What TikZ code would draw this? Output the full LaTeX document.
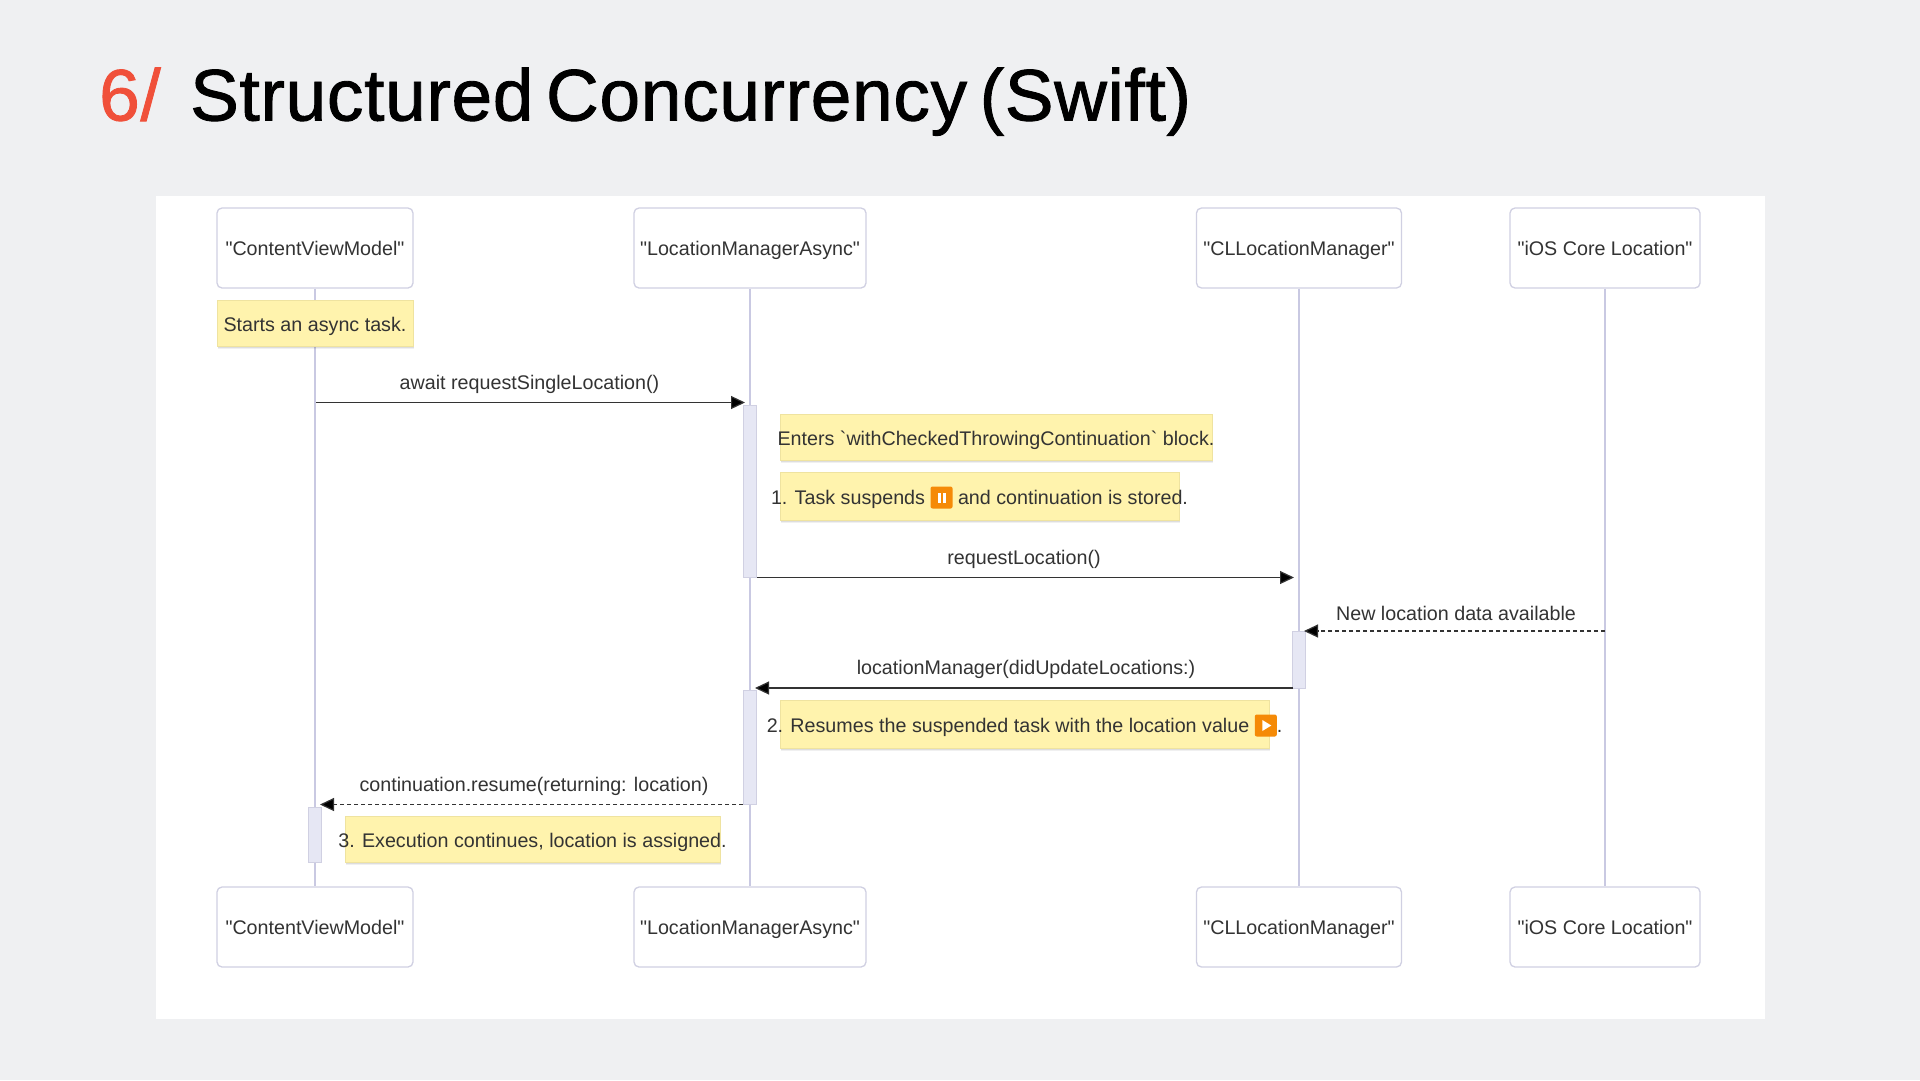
\documentclass[tikz,border=0pt]{standalone}
\usepackage{fontspec}
\setmainfont{Liberation Sans}[Ligatures=TeXOff]
\newfontfamily\titlefont{Liberation Sans}[FakeBold=1.2,LetterSpace=1.0,WordSpace=0.6]
\definecolor{slidebg}{HTML}{EFF0F2}
\definecolor{titlered}{HTML}{F0503A}
\definecolor{actorline}{HTML}{D0D0E2}
\definecolor{lifecol}{HTML}{C9C9E2}
\definecolor{actfill}{HTML}{E6E7F4}
\definecolor{notefill}{HTML}{FFF3AD}
\definecolor{noteline}{HTML}{EFE3A0}
\definecolor{inkcol}{HTML}{333333}
\definecolor{iconcol}{HTML}{F58A07}
\usetikzlibrary{shadows,arrows.meta}
\newcommand{\pauseicon}{\tikz[baseline=4pt,x=1pt,y=1pt]{\fill[iconcol,rounded corners=2pt] (0,0) rectangle (22,22);\fill[white] (7,6) rectangle (10,16);\fill[white] (12,6) rectangle (15,16);}}
\newcommand{\playicon}{\tikz[baseline=4pt,x=1pt,y=1pt]{\fill[iconcol,rounded corners=2pt] (0,0) rectangle (22,22);\fill[white] (7.5,5.5) -- (16.5,11) -- (7.5,16.5) -- cycle;}}
\tikzset{
  actorbox/.style={draw=actorline,line width=1.3pt,fill=white,rounded corners=5pt,inner sep=0pt,text=inkcol,text height=19pt,text depth=4pt,font=\fontsize{19.7}{24}\selectfont},
  lifeline/.style={draw=lifecol,line width=2pt},
  actbox/.style={draw=actorline,fill=actfill,line width=1pt,inner sep=0pt,minimum width=13pt},
  notebox/.style={draw=noteline,fill=notefill,line width=.8pt,inner sep=0pt,text=inkcol,text height=20pt,text depth=3pt,font=\fontsize{19.7}{24}\selectfont,
    general shadow={shadow xshift=1pt,shadow yshift=-3pt,opacity=.06,fill=black},
    general shadow={shadow xshift=.7pt,shadow yshift=-2pt,opacity=.08,fill=black},
    general shadow={shadow xshift=.4pt,shadow yshift=-1pt,opacity=.1,fill=black}},
  msg/.style={draw=inkcol,line width=1.2pt,-{Triangle[length=14pt,width=13pt]}},
  dashmsg/.style={msg,dash pattern=on 4pt off 3pt},
  msglabel/.style={text=inkcol,inner sep=0pt,text height=18pt,text depth=4pt,font=\fontsize{19.7}{24}\selectfont},
}
\begin{document}
\begin{tikzpicture}[x=1pt,y=-1pt]
\fill[slidebg] (0,0) rectangle (1920,1080);
\fill[white] (155.5,196) rectangle (1764.5,1019);
\useasboundingbox (0,0) rectangle (1920,1080);

% title
\node[anchor=base west,inner sep=0pt,text=titlered,font=\titlefont\fontsize{73}{80}\selectfont] (num) at (99,120.5) {6/};
\node[anchor=base west,inner sep=0pt,text=black,font=\titlefont\fontsize{73}{80}\selectfont] (title) at (190,120.5) {Structured Concurrency (Swift)};

% actors, top and bottom
\node[actorbox,minimum width=196pt,minimum height=80pt] (cvmTop) at (315,248) {"ContentViewModel"};
\node[actorbox,minimum width=232pt,minimum height=80pt] (lmaTop) at (750,248) {"LocationManagerAsync"};
\node[actorbox,minimum width=205pt,minimum height=80pt] (cllTop) at (1299,248) {"CLLocationManager"};
\node[actorbox,minimum width=190pt,minimum height=80pt] (iosTop) at (1605,248) {"iOS Core Location"};
\node[actorbox,minimum width=196pt,minimum height=80pt] (cvmBot) at (315,927) {"ContentViewModel"};
\node[actorbox,minimum width=232pt,minimum height=80pt] (lmaBot) at (750,927) {"LocationManagerAsync"};
\node[actorbox,minimum width=205pt,minimum height=80pt] (cllBot) at (1299,927) {"CLLocationManager"};
\node[actorbox,minimum width=190pt,minimum height=80pt] (iosBot) at (1605,927) {"iOS Core Location"};

% lifelines
\draw[lifeline] (cvmTop) -- (cvmBot);
\draw[lifeline] (lmaTop) -- (lmaBot);
\draw[lifeline] (cllTop) -- (cllBot);
\draw[lifeline] (iosTop) -- (iosBot);

% activations
\node[actbox,minimum height=172pt] (act1) at (750,491) {};
\node[actbox,minimum height=57pt] (act2) at (1299,659.5) {};
\node[actbox,minimum height=114pt] (act3) at (750,747) {};
\node[actbox,minimum height=55pt] (act4) at (315,834.5) {};

% notes
\node[notebox,minimum width=196pt,minimum height=46pt] (note1) at (315,323) {\makebox[0pt]{Starts an async task.}};
\node[notebox,minimum width=432pt,minimum height=46pt] (note2) at (996,437) {\makebox[0pt]{Enters `withCheckedThrowingContinuation` block.}};
\node[notebox,minimum width=399pt,minimum height=48pt] (note3) at (979.5,496) {\makebox[0pt]{1. Task suspends \pauseicon{} and continuation is stored.}};
\node[notebox,minimum width=489pt,minimum height=48pt] (note4) at (1024.5,724) {\makebox[0pt]{2. Resumes the suspended task with the location value \playicon{}.}};
\node[notebox,minimum width=375pt,minimum height=46pt] (note5) at (532.5,839) {\makebox[0pt]{3. Execution continues, location is assigned.}};

% messages
\coordinate (m1s) at (316,402.5);
\coordinate (m1e) at (745,402.5);
\coordinate (m2e) at (1294,577);
\coordinate (m3s) at (1605,631);
\coordinate (m3e) at (1304,631);
\coordinate (m4s) at (1293,688);
\coordinate (m4e) at (755,688);
\coordinate (m5s) at (743,804.5);
\coordinate (m5e) at (320,804.5);
\draw[msg] (m1s) -- (m1e);
\draw[msg] (act1.south east) -- (act1.south east -| m2e);
\draw[dashmsg] (m3s) -- (m3e);
\draw[msg] (m4s) -- (m4e);
\draw[dashmsg] (m5s) -- (m5e);
\node[msglabel] (lab1) at (529.5,382) {await requestSingleLocation()};
\node[msglabel] (lab2) at (1024,557) {requestLocation()};
\node[msglabel] (lab3) at (1456,613) {New location data available};
\node[msglabel] (lab4) at (1026,667) {locationManager(didUpdateLocations:)};
\node[msglabel] (lab5) at (534,784) {continuation.resume(returning: location)};
\end{tikzpicture}
\end{document}
